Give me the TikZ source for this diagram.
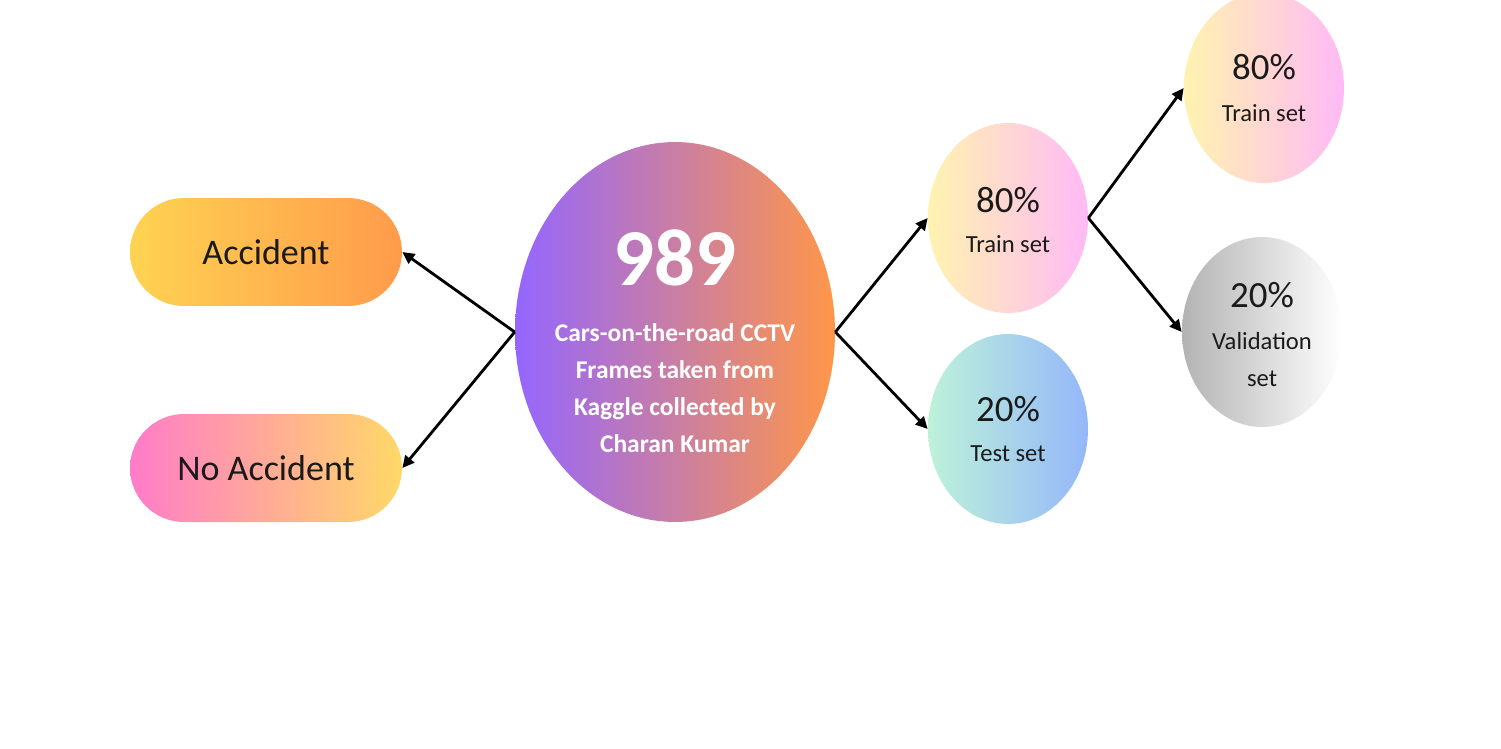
\documentclass[tikz,border=0pt]{standalone}
\usepackage{fontspec}
\setmainfont{Carlito}
\usetikzlibrary{arrows.meta,shapes.geometric}
\definecolor{accyellow}{HTML}{FFD352}
\definecolor{accorange}{HTML}{FF9B4B}
\definecolor{nopink}{HTML}{FF7CC9}
\definecolor{noyellow}{HTML}{FFD867}
\definecolor{bigpurple}{HTML}{9466FF}
\definecolor{bigorange}{HTML}{FF9648}
\definecolor{trainyellow}{HTML}{FFF3B0}
\definecolor{trainpink}{HTML}{FFBAF6}
\definecolor{testmint}{HTML}{BDF2D9}
\definecolor{testblue}{HTML}{95B7FA}
\definecolor{valgrey}{HTML}{B3B3B3}
\definecolor{inkcolor}{HTML}{1A1A1A}

\begin{document}
\begin{tikzpicture}[
  x=0.02cm,y=-0.02cm,
  pill/.style={rounded corners=1.08cm,minimum width=5.44cm,minimum height=2.16cm,
               inner sep=0pt,text=inkcolor,font=\fontsize{20.5}{24}\selectfont},
  blob/.style={ellipse,minimum width=3.2cm,minimum height=3.8cm,inner sep=-0.5cm,
               align=center,text=inkcolor,font=\fontsize{14}{22.5}\selectfont},
  arr/.style={-{Triangle[length=2.4mm,width=2.3mm]},line width=1.6pt,black}
]
\useasboundingbox[fill=white] (0,0) rectangle (1501,748);

% Classes
\node[pill,left color=accyellow,right color=accorange] (acc) at (266,252) {Accident};
\node[pill,left color=nopink,right color=noyellow] (noacc) at (266,468) {No Accident};

% Whole dataset
\node[ellipse,minimum width=6.4cm,minimum height=7.6cm,inner sep=-1cm,align=center,
      left color=bigpurple,right color=bigorange,text=white,
      font=\fontsize{14.5}{21}\selectfont\bfseries] (total) at (675,332)
  {{\fontsize{46}{50}\selectfont\rule{0pt}{42pt}989}\\[11pt]
   Cars-on-the-road CCTV\\Frames taken from\\Kaggle collected by\\Charan Kumar};

% First split
\node[blob,left color=trainyellow,right color=trainpink] (train) at (1008,218)
  {{\fontsize{21}{24}\selectfont\rule{0pt}{16.5pt}80\%}\\Train set};
\node[blob,left color=testmint,right color=testblue] (test) at (1008,429)
  {{\fontsize{21}{24}\selectfont 20\%}\\Test set};

% Second split
\node[blob,left color=trainyellow,right color=trainpink] (trainB) at (1264,88)
  {{\fontsize{21}{24}\selectfont 80\%}\\[1pt]Train set};
\node[blob,left color=valgrey,right color=white,font=\fontsize{14}{21}\selectfont] (val) at (1262,332)
  {{\fontsize{21}{24}\selectfont\rule{0pt}{17pt}20\%}\\[3pt]Validation\\set};

% Connections
\draw[arr] (total.west) -- (acc.east);
\draw[arr] (total.west) -- (noacc.east);
\draw[arr] (total.east) -- (train.west);
\draw[arr] (total.east) -- (test.west);
\draw[arr] (train.east) -- (trainB.west);
\draw[arr] (train.east) -- (val.west);

\end{tikzpicture}
\end{document}
